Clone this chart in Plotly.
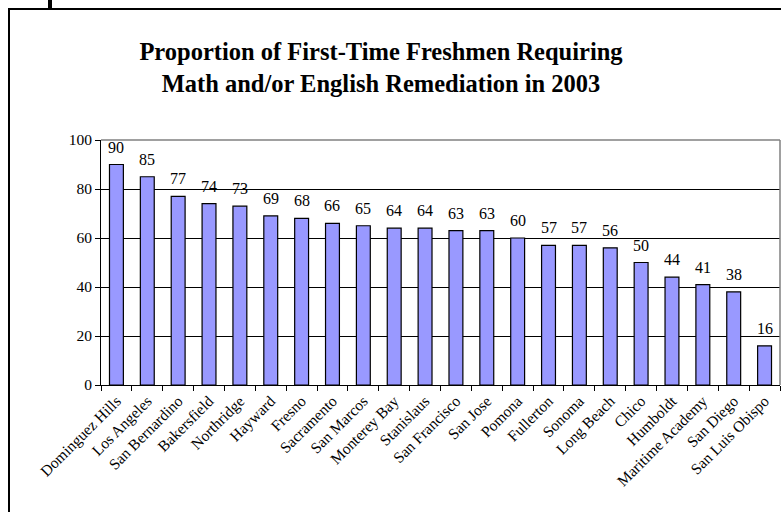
import plotly.graph_objects as go

campuses = ["Dominguez Hills", "Los Angeles", "San Bernardino", "Bakersfield", "Northridge",
            "Hayward", "Fresno", "Sacramento", "San Marcos", "Monterey Bay", "Stanislaus",
            "San Francisco", "San Jose", "Pomona", "Fullerton", "Sonoma", "Long Beach",
            "Chico", "Humboldt", "Maritime Academy", "San Diego", "San Luis Obispo"]
values = [90, 85, 77, 74, 73, 69, 68, 66, 65, 64, 64, 63, 63, 60, 57, 57, 56, 50, 44, 41, 38, 16]
y_ticks = [0, 20, 40, 60, 80, 100]

W, H = 781, 512
L, R, T, B = 101, 1, 140, 127
pw, ph = W - L - R, H - T - B

def px(x):
    return (x - L) / pw

def py(y):
    return (H - B - y) / ph

font = "Liberation Serif, Times New Roman, serif"

fig = go.Figure(go.Bar(
    x=campuses, y=values,
    marker=dict(color="#9999FF", line=dict(color="black", width=1.2)),
    width=0.45,
))

annotations = [
    dict(x=c, y=v, xref="x", yref="y", text=str(v), showarrow=False,
         yanchor="bottom", yshift=7, font=dict(family=font, size=16, color="black"))
    for c, v in zip(campuses, values)
]

fig.update_layout(
    width=W, height=H,
    margin=dict(l=L, r=R, t=T, b=B),
    paper_bgcolor="white", plot_bgcolor="white",
    showlegend=False,
    title=dict(text="<b>Proportion of First-Time Freshmen Requiring<br>Math and/or English Remediation in 2003</b>",
               font=dict(family=font, size=24.5, color="black"),
               x=381 / W, xanchor="center", y=1 - 60 / H, yanchor="middle"),
    xaxis=dict(tickangle=-45, tickfont=dict(family=font, size=15.5, color="black"),
               ticks="outside", tickson="boundaries", ticklen=5, tickcolor="black",
               showline=True, linecolor="black", linewidth=1, showgrid=False),
    yaxis=dict(range=[0, 100], tickvals=y_ticks, tickfont=dict(family=font, size=15.5, color="black"),
               ticks="outside", ticklen=5, tickcolor="black",
               showline=True, linecolor="black", linewidth=1,
               showgrid=True, gridcolor="black", gridwidth=1, zeroline=False),
    annotations=annotations,
    shapes=[
        dict(type="line", xref="paper", yref="paper", x0=0, x1=1, y0=1, y1=1,
             line=dict(color="#808080", width=1.5)),
        dict(type="line", xref="paper", yref="paper", x0=1, x1=1, y0=0, y1=1,
             line=dict(color="#808080", width=1.5)),
        dict(type="line", xref="paper", yref="paper", x0=px(9), x1=px(9), y0=py(9), y1=py(515),
             line=dict(color="black", width=2)),
        dict(type="line", xref="paper", yref="paper", x0=px(8), x1=px(785), y0=py(9), y1=py(9),
             line=dict(color="black", width=2)),
        dict(type="line", xref="paper", yref="paper", x0=px(50), x1=px(50), y0=py(-2), y1=py(9),
             line=dict(color="black", width=4)),
    ],
)

fig.write_html("out.html")
